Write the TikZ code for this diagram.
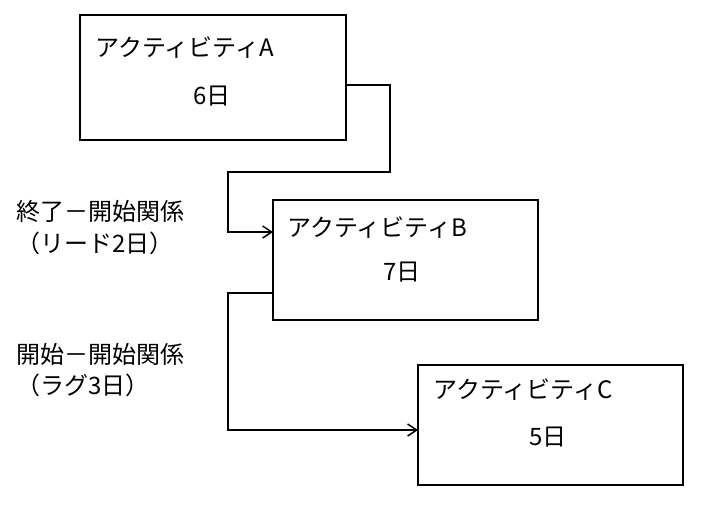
\documentclass[tikz,border=0pt]{standalone}
\usetikzlibrary{arrows.meta}
\usepackage{fontspec}
\setmainfont{Noto Sans CJK JP}
\begin{document}
\begin{tikzpicture}[x=1pt,y=-1pt,
 box/.style={draw,line width=1.5pt},
 ln/.style={line width=1.5pt},
 t/.style={font=\fontsize{24}{28}\selectfont,inner sep=0pt},
 arr/.style={ln,-{Straight Barb[length=9pt,width=12pt]}}]
\useasboundingbox (0,0) rectangle (704,504);
\draw[box] (80,15) rectangle (346,140);
\draw[box] (273,200) rectangle (538,320);
\draw[box] (418,365) rectangle (683,485);
\node[t,anchor=west] (ta) at (95,48) {アクティビティA};
\node[t] (da) at (212,96) {6日};
\node[t,anchor=west] (tb) at (287,228) {アクティビティB};
\node[t] (db) at (402,272) {7日};
\node[t,anchor=west] (tc) at (433,390) {アクティビティC};
\node[t] (dc) at (548,437) {5日};
\node[t,anchor=west] (l1) at (16,211) {終了－開始関係};
\node[t,anchor=west] (l2) at (16,243) {（リード2日）};
\node[t,anchor=west] (l3) at (16,354) {開始－開始関係};
\node[t,anchor=west] (l4) at (16,385) {（ラグ3日）};
\coordinate (a1) at (346,85);
\coordinate (b1) at (273,232);
\coordinate (b2) at (273,293);
\coordinate (c1) at (418,430);
\draw[arr] (a1) -- (390,85) -- (390,172) -- (228,172) -- (228,232) -- (b1);
\draw[arr] (b2) -- (228,293) -- (228,430) -- (c1);
\end{tikzpicture}
\end{document}
